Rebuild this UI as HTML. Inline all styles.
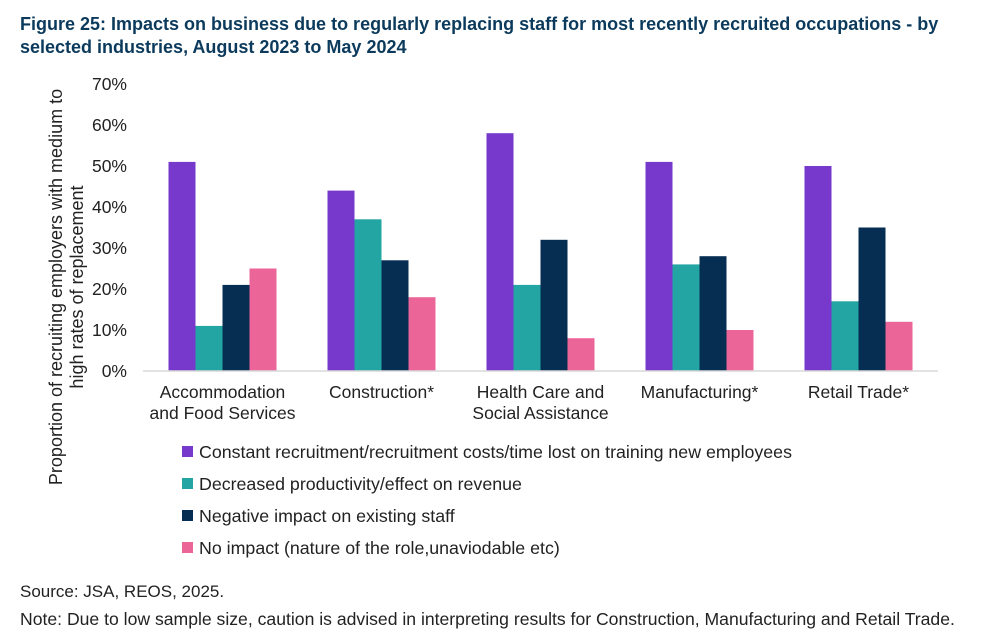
<!DOCTYPE html>
<html><head><meta charset="utf-8"><style>
body{margin:0;background:#fff;font-family:"Liberation Sans",Arial,sans-serif;}
svg text{font-family:"Liberation Sans",Arial,sans-serif;}
</style></head><body>
<svg width="990" height="638" xmlns="http://www.w3.org/2000/svg">
<text x="20" y="30" font-size="18" font-weight="bold" fill="#0b3a5c">Figure 25: Impacts on business due to regularly replacing staff for most recently recruited occupations - by</text>
<text x="20" y="53" font-size="18" font-weight="bold" fill="#0b3a5c">selected industries, August 2023 to May 2024</text>
<g id="yaxis"></g>
<text transform="translate(62,287) rotate(-90)" text-anchor="middle" font-size="18" fill="#222"><tspan x="0" y="0">Proportion of recruiting employers with medium to</tspan><tspan x="0" y="21">high rates of replacement</tspan></text>
<g id="bars"></g>
<line x1="143" y1="371" x2="938" y2="371" stroke="#d9d9d9" stroke-width="1.5"/>
<g id="xlabels"></g>
<g id="legend"></g>
<text x="20" y="597" font-size="17" fill="#222">Source: JSA, REOS, 2025.</text>
<text x="20" y="625" font-size="17.6" fill="#222">Note: Due to low sample size, caution is advised in interpreting results for Construction, Manufacturing and Retail Trade.</text>
</svg>
<script>
const categories=[["Accommodation","and Food Services"],["Construction*"],["Health Care and","Social Assistance"],["Manufacturing*"],["Retail Trade*"]];
const seriesNames=["Constant recruitment/recruitment costs/time lost on training new employees","Decreased productivity/effect on revenue","Negative impact on existing staff","No impact (nature of the role,unaviodable etc)"];
const recruitment=[51,44,58,51,50];
const productivity=[11,37,21,26,17];
const staffImpact=[21,27,32,28,35];
const noImpact=[25,18,8,10,12];
const yTicks=[0,10,20,30,40,50,60,70];
const series=[recruitment,productivity,staffImpact,noImpact];
const colors=["#7639cc","#23a6a3","#062d52","#ec6599"];
const NS="http://www.w3.org/2000/svg";
const x0=143,x1=938,y0=371,yMax=70,pxPer=4.1;
const yS=v=>y0-v*pxPer;
const band=(x1-x0)/categories.length;
const xC=i=>x0+band*(i+0.5);
const bw=27;
function mk(t,a,p){const e=document.createElementNS(NS,t);for(const k in a)e.setAttribute(k,a[k]);p.appendChild(e);return e;}
const ya=document.getElementById('yaxis');
yTicks.forEach(t=>{const e=mk('text',{x:127,y:yS(t)+6,'text-anchor':'end','font-size':'17.5',fill:'#222'},ya);e.textContent=t+'%';

});
const bars=document.getElementById('bars');
categories.forEach((c,i)=>{series.forEach((s,j)=>{const v=s[i];
const r=mk('rect',{x:xC(i)-2*bw+j*bw,y:yS(v),width:bw,height:v*pxPer,fill:colors[j]},bars);

});});
const xl=document.getElementById('xlabels');
categories.forEach((c,i)=>{c.forEach((l,k)=>{const e=mk('text',{x:xC(i),y:398+k*21,'text-anchor':'middle','font-size':'17.5',fill:'#222'},xl);e.textContent=l;

});});
const lg=document.getElementById('legend');
seriesNames.forEach((n,j)=>{const y=452+j*32;
const g=mk('g',{},lg);


mk('rect',{x:182,y:y-6,width:11,height:11,fill:colors[j]},g);
const t=mk('text',{x:199,y:y+6,'font-size':'17.8',fill:'#222'},g);t.textContent=n;});
</script>
</body></html>
